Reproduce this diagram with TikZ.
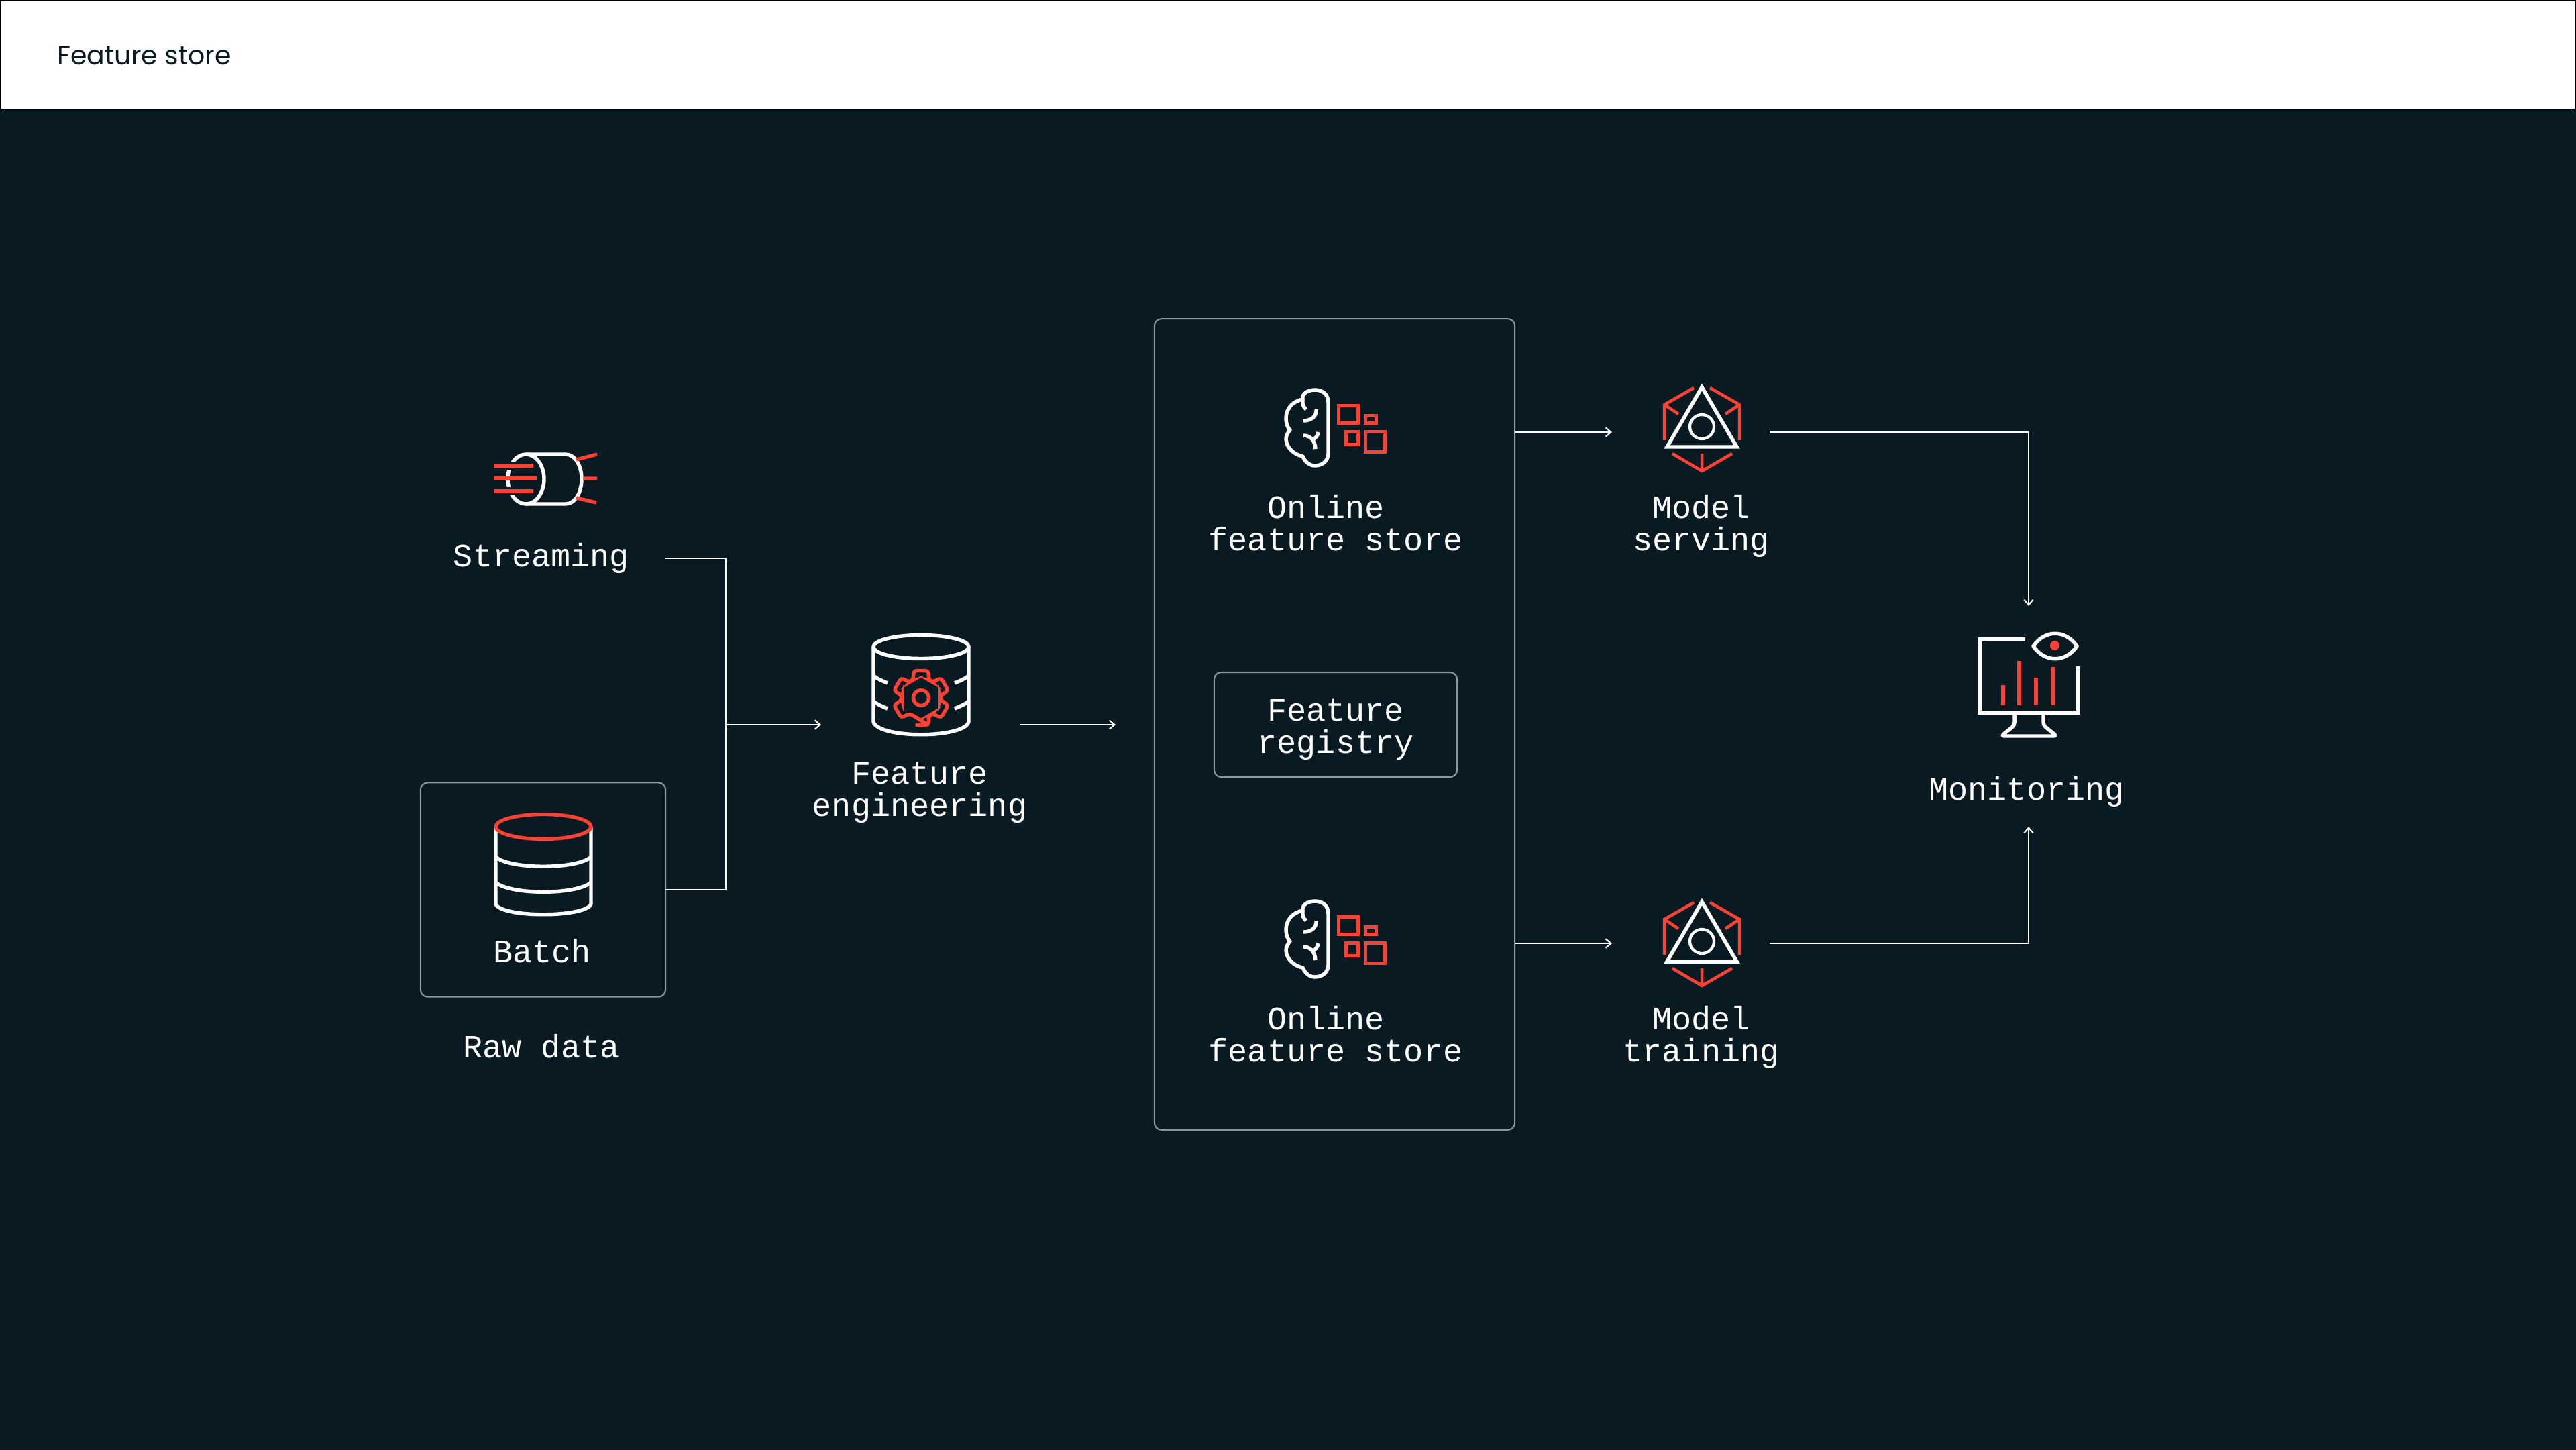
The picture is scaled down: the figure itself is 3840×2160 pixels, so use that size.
\documentclass[tikz,border=0pt]{standalone}
\usepackage{fontspec}
\setmainfont{Liberation Mono}
\newfontfamily\headfont{Poppins}
\usetikzlibrary{arrows.meta}
\definecolor{bgdark}{HTML}{0A1A22}
\definecolor{redline}{HTML}{FB4134}
\definecolor{boxgrey}{HTML}{8A989F}
\tikzset{
  label text/.style={text=white,align=center,inner sep=0,font=\fontsize{13.8pt}{13.66pt}\selectfont},
  panel/.style={draw=boxgrey,line width=0.6pt,rounded corners=3pt,inner sep=0,outer sep=0},
  conn/.style={draw=white,line width=0.6pt,>={Straight Barb[length=2.2pt,width=3.8pt]}},
  whiteicon/.style={draw=white,line width=1.55pt,line join=round},
  redicon/.style={draw=redline,line width=1.5pt}
}
\begin{document}
\begin{tikzpicture}[x=0.01cm,y=-0.01cm]
    \useasboundingbox (0,0) rectangle (3840,2160);
    \fill[bgdark] (-10,-10) rectangle (3850,2170); %背景
    \fill[black] (-10,-10) rectangle (3850,164);
    \fill[white] (2,2) rectangle (3838,162);
    \node[anchor=base west,inner sep=0,text=bgdark,font=\headfont\fontsize{11.2pt}{12pt}\selectfont] (title) at (85,96) {Feature store};

    \node[panel,minimum width=3.65cm,minimum height=3.19cm] (batchbox) at (809.5,1326) {}; %Raw data
    \node[panel,minimum width=5.37cm,minimum height=12.08cm] (storebox) at (1989.5,1079.5) {};
    \node[panel,minimum width=3.62cm,minimum height=1.56cm] (registrybox) at (1991,1080) {};

    \node[label text] (streaming) at (807,832) {Streaming};
    \node[label text] (batch) at (808,1417) {Batch};
    \node[label text] (rawdata) at (807,1559) {Raw data};
    \node[label text] (engineering) at (1371,1181) {Feature\\engineering};
    \node[label text] (registry) at (1991,1087) {Feature\\registry};
    \node[label text] (onlinetop) at (1991,779) {Online\hphantom{x}\\feature store};
    \node[label text] (onlinebottom) at (1991,1541) {Online\hphantom{x}\\feature store};
    \node[label text] (serving) at (2536,784) {Model\\serving};
    \node[label text] (training) at (2536,1546) {Model\\training};
    \node[label text] (monitoring) at (3021,1180) {Monitoring};

    \coordinate (streamout) at (992,832);
    \coordinate (bus) at (1082,1080);
    \coordinate (engin) at (1224,1080);
    \coordinate (engout) at (1520,1080);
    \coordinate (storein) at (1663,1080);
    \coordinate (servein) at (2403,644);
    \coordinate (serveout) at (2638,644);
    \coordinate (trainin) at (2403,1406);
    \coordinate (trainout) at (2638,1406);
    \coordinate (monitop) at (3024,903);
    \coordinate (monibottom) at (3024,1232);

    \draw[conn] (streamout) -| (bus) |- (batchbox.east);
    \draw[conn,->] (bus) -- (engin);
    \draw[conn,->] (engout) -- (storein);
    \draw[conn,->] (storebox.east |- servein) -- (servein);
    \draw[conn,->] (storebox.east |- trainin) -- (trainin);
    \draw[conn,->] (serveout) -| (monitop);
    \draw[conn,->] (trainout) -| (monibottom);

    %Streaming
    \draw[whiteicon] (784,677) -- (843,677) .. controls (858,677) and (867,695) .. (867,714) .. controls (867,733) and (858,751) .. (843,751) -- (784,751);
    \draw[whiteicon] (784,714) ellipse [x radius=27,y radius=37];
    \draw[bgdark,line width=3.4pt] (745,694) -- (772,694) (745,732) -- (772,732);
    \foreach \yy/\xx in {694/795,713/800,732/795}
        \draw[redicon] (736,\yy) -- (\xx,\yy);
    \draw[redicon] (859,685) -- (890,677) (869,713) -- (890,713) (859,742) -- (889,749);

    %Batch
    \draw[whiteicon] (739,1232) -- (739,1347) .. controls (745,1368) and (875,1368) .. (881,1347) -- (881,1232);
    \foreach \yy in {1277,1315}
        \draw[whiteicon] (739,\yy) .. controls (760,\yy+19) and (860,\yy+19) .. (881,\yy);
    \draw[redicon] (810,1232) ellipse [x radius=71,y radius=18.5];

    %Feature engineering
    \draw[whiteicon] (1373,964) ellipse [x radius=71,y radius=17.5];
    \draw[whiteicon] (1302,964) -- (1302,1076) .. controls (1310,1101) and (1436,1101) .. (1444,1076) -- (1444,964);
    \foreach \yy in {1007,1045} {
        \draw[whiteicon] (1302,\yy) .. controls (1308,\yy+5) and (1316,\yy+8) .. (1323,\yy+11);
        \draw[whiteicon] (1444,\yy) .. controls (1438,\yy+5) and (1430,\yy+8) .. (1423,\yy+11);
    }
    \begin{scope}[shift={(1373,1040)}]
        \draw[redicon,rounded corners=1.2pt] (75:42)
            \foreach \a in {90,30,-30,-90,-150,-210} { -- (\a+15:42) -- (\a-15:42) -- (\a-24:29) -- (\a-36:29) } -- cycle;
        \draw[redicon] (0,0) circle [radius=11.5];
    \end{scope}

    %Online feature store
    \foreach \yy in {0,762} {
        \begin{scope}[shift={(0,\yy)}]
            \draw[whiteicon] (1980,600) .. controls (1980,588) and (1972,581) .. (1960,581) .. controls (1948,581) and (1940,588) .. (1942,595) .. controls (1926,598) and (1917,610) .. (1917,623) .. controls (1917,632) and (1920,638) .. (1923,641) .. controls (1919,645) and (1917,650) .. (1917,655) .. controls (1918,668) and (1930,678) .. (1942,680) .. controls (1945,688) and (1952,694) .. (1960,694) .. controls (1972,694) and (1980,686) .. (1980,676) -- cycle;
            \draw[whiteicon] (1942,595) .. controls (1941,602) and (1943,607) .. (1947,610);
            \draw[whiteicon] (1962,610) .. controls (1963,620) and (1955,627) .. (1943,627);
            \draw[whiteicon] (1943,649) .. controls (1952,649) and (1960,655) .. (1961,669);
            \draw[whiteicon] (1965,644) .. controls (1964,650) and (1961,653) .. (1957,655);
            \draw[redicon] (1995.5,604.5) rectangle (2024.5,630.5);
            \draw[redicon] (2035.5,619.5) rectangle (2051.5,630.5);
            \draw[redicon] (2006.5,643.5) rectangle (2024.5,662.5);
            \draw[redicon] (2035.5,643.5) rectangle (2064.5,673.5);
        \end{scope}
    }

    %Model
    \foreach \yy in {0,767} {
        \begin{scope}[shift={(0,\yy)}]
            \draw[whiteicon,line join=miter] (2537,577) -- (2589,666) -- (2485,666) -- cycle;
            \draw[draw=white,line width=1.2pt] (2537,636) circle [radius=18];
            \draw[redicon,line width=1.3pt] (2525,578) -- (2481,603) -- (2481,656) (2481,603) -- (2502,617);
            \draw[redicon,line width=1.3pt] (2549,578) -- (2593,603) -- (2593,656) (2593,603) -- (2572,617);
            \draw[redicon,line width=1.3pt] (2493,676) -- (2537,702) -- (2582,676) (2537,676) -- (2537,702);
        \end{scope}
    }

    %Monitoring
    \draw[whiteicon,line join=miter] (3019,953) -- (2951,953) -- (2951,1062) -- (3098,1062) -- (3098,993);
    \draw[whiteicon,rounded corners=1.2pt] (3003,1062) -- (3003,1081) -- (2983,1097) -- (3066,1097) -- (3046,1081) -- (3046,1062);
    \draw[whiteicon] (3031,963) .. controls (3048,938) and (3079,938) .. (3096,963) .. controls (3079,988) and (3048,988) .. (3031,963) -- cycle;
    \fill[redline] (3063,962) circle [radius=7];
    \foreach \xx/\yy in {2986/1021,3010/985,3035/1010,3060/994}
        \draw[redicon,line width=1.55pt] (\xx,1051) -- (\xx,\yy);
\end{tikzpicture}
\end{document}
